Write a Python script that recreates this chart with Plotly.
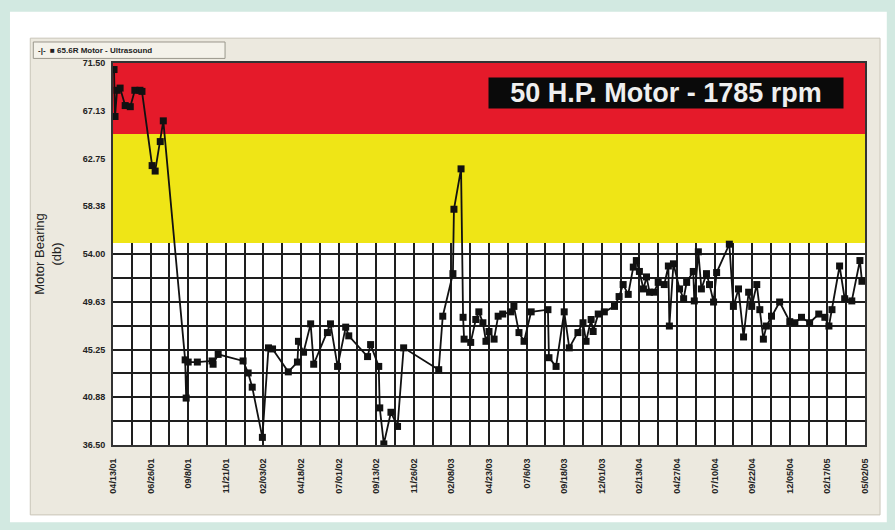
import plotly.graph_objects as go

# ---- data (days since first tick label, reading in dB) ----
days = [2, 4, 8, 14, 24, 34, 43, 53, 57, 77, 83, 93, 99,
        142, 144, 148, 166, 195, 197, 207, 256, 266, 274, 294, 306, 314,
        345, 363, 365, 375, 389, 395, 422, 428, 442, 458, 464, 501, 507,
        523, 525, 533, 547, 560, 572, 641, 649, 669, 671, 685, 689, 691,
        704, 714, 720, 728, 734, 740, 750, 758, 767, 783, 789, 799, 809,
        823, 856, 858, 872, 888, 898, 915, 925, 931, 941, 945, 955, 967,
        987, 996, 1004, 1014, 1024, 1030, 1036, 1044, 1050, 1056, 1065,
        1073, 1085, 1093, 1095, 1103, 1115, 1123, 1129, 1142, 1144, 1152,
        1158, 1168, 1174, 1182, 1188, 1213, 1221, 1231, 1241, 1251, 1257,
        1267, 1273, 1280, 1286, 1296, 1312, 1332, 1342, 1355, 1371, 1389,
        1401, 1409, 1415, 1430, 1440, 1454, 1470, 1474]
values = [70.9, 66.6, 69.0, 69.2, 67.6, 67.5, 69.0, 69.0, 68.9, 62.1, 61.6, 64.3, 66.2,
          44.3, 40.8, 44.1, 44.1, 44.2, 43.9, 44.8, 44.2, 43.1, 41.8, 37.2, 45.4, 45.3,
          43.2, 44.1, 46.0, 45.0, 47.6, 43.9, 46.8, 47.6, 43.7, 47.3, 46.5, 44.6, 45.7,
          43.7, 39.9, 36.6, 39.5, 38.2, 45.4, 43.4, 48.3, 52.2, 58.1, 61.8, 48.2, 46.2,
          45.9, 48.0, 48.7, 47.7, 46.0, 46.9, 46.2, 48.3, 48.5, 48.7, 49.2, 46.8, 46.0,
          48.7, 48.9, 44.5, 43.7, 48.7, 45.4, 46.8, 47.7, 46.0, 48.0, 46.9, 48.5, 48.7,
          49.2, 50.1, 51.2, 50.3, 52.8, 53.4, 52.4, 50.8, 51.9, 50.5, 50.5,
          51.4, 51.2, 52.9, 47.4, 53.1, 50.8, 49.9, 51.4, 52.4, 49.7, 54.2,
          50.8, 52.2, 51.2, 49.6, 52.3, 54.9, 49.2, 50.8, 46.4, 50.5, 49.2,
          51.2, 48.9, 46.2, 47.4, 48.3, 49.6, 47.8, 47.7, 48.2, 47.7, 48.5,
          48.2, 47.4, 48.9, 52.9, 49.9, 49.7, 53.4, 51.5]

x_tick_labels = ["04/13/01", "06/26/01", "09/8/01", "11/21/01", "02/03/02", "04/18/02",
                 "07/01/02", "09/13/02", "11/26/02", "02/08/03", "04/23/03", "07/6/03",
                 "09/18/03", "12/01/03", "02/13/04", "04/27/04", "07/10/04", "09/22/04",
                 "12/05/04", "02/17/05", "05/02/05"]
tick_interval_days = 74
y_tick_labels = ["36.50", "40.88", "45.25", "49.63", "54.00", "58.38", "62.75", "67.13", "71.50"]
y_min, y_max = 36.5, 71.5
alert_level = 55.0
danger_level = 65.0

x_tickvals = [i * tick_interval_days for i in range(len(x_tick_labels))]
y_step = (y_max - y_min) / (len(y_tick_labels) - 1)
y_tickvals = [y_min + i * y_step for i in range(len(y_tick_labels))]
x_max = x_tickvals[-1]

TEAL = "#d2e9e1"
BEIGE = "#ece9df"
RED = "#e51a2a"
YELLOW = "#efe516"
GRID = "#1e1e1e"
FONT = "Liberation Sans, Arial"

fig = go.Figure()
fig.add_trace(go.Scatter(
    x=days, y=values, mode="lines+markers",
    line=dict(color="#111111", width=1.8),
    marker=dict(symbol="square", size=7, color="#111111"),
    showlegend=False, cliponaxis=True,
))

shapes = [
    # white inner card
    dict(type="rect", xref="paper", yref="paper", x0=-0.137, x1=1.029, y0=-0.202, y1=1.134,
         fillcolor="white", line=dict(width=0), layer="below"),
    # beige panel
    dict(type="rect", xref="paper", yref="paper", x0=-0.110, x1=1.020, y0=-0.183, y1=1.065,
         fillcolor=BEIGE, line=dict(color="#c9c5b8", width=1), layer="below"),
    # legend tab
    dict(type="rect", xref="paper", yref="paper", x0=-0.106, x1=0.149, y0=1.012, y1=1.055,
         fillcolor="#f4f2ea", line=dict(color="#9a978c", width=1), layer="below"),
    # white plotting area
    dict(type="rect", xref="paper", yref="paper", x0=0, x1=1, y0=0, y1=1,
         fillcolor="white", line=dict(width=0), layer="below"),
    # red zone
    dict(type="rect", xref="x", yref="y", x0=0, x1=x_max, y0=danger_level, y1=y_max,
         fillcolor=RED, line=dict(width=0), layer="between"),
    # yellow zone
    dict(type="rect", xref="x", yref="y", x0=0, x1=x_max, y0=alert_level, y1=danger_level,
         fillcolor=YELLOW, line=dict(width=0), layer="between"),
]

fig.update_layout(
    width=895, height=530,
    margin=dict(l=113, r=30, t=63, b=85),
    paper_bgcolor=TEAL, plot_bgcolor="white",
    shapes=shapes,
    annotations=[
        dict(text="<b>50 H.P. Motor - 1785 rpm</b>", xref="paper", yref="paper",
             x=0.735, y=0.921, xanchor="center", yanchor="middle", showarrow=False,
             font=dict(family=FONT, size=27, color="#efefef"),
             bgcolor="#0a0a0a", borderpad=1, width=352, height=28),
        dict(text="<b>-|-  ■ 65.6R Motor - Ultrasound</b>", xref="paper", yref="paper",
             x=-0.102, y=1.034, xanchor="left", yanchor="middle", showarrow=False,
             font=dict(family=FONT, size=8, color="#222222")),
    ],
    xaxis=dict(
        automargin=False,
        range=[0, x_max], tickvals=x_tickvals, ticktext=x_tick_labels,
        tickangle=-90, tickfont=dict(family=FONT, size=9, color="#222222", weight="bold"),
        ticks="outside", ticklen=8, tickcolor=BEIGE,
        showgrid=True, gridcolor=GRID, gridwidth=1.5,
        minor=dict(tick0=0, dtick=tick_interval_days / 2, showgrid=True, gridcolor=GRID, gridwidth=1.5),
        showline=True, linecolor="#333333", linewidth=2, mirror=True, zeroline=False,
    ),
    yaxis=dict(
        automargin=False,
        range=[y_min, y_max], tickvals=y_tickvals, ticktext=y_tick_labels,
        tickfont=dict(family=FONT, size=9, color="#222222", weight="bold"),
        ticks="outside", ticklen=4, tickcolor=BEIGE,
        showgrid=True, gridcolor=GRID, gridwidth=1.5,
        minor=dict(tick0=y_min, dtick=y_step / 2, showgrid=True, gridcolor=GRID, gridwidth=1.5),
        showline=True, linecolor="#333333", linewidth=2, mirror=True, zeroline=False,
        title=dict(text="Motor Bearing<br>(db)", standoff=18,
                   font=dict(family=FONT, size=13, color="#222222")),
    ),
)

fig.write_html("out.html", config={"displayModeBar": False},
               post_script="document.body.style.margin='0px';")
